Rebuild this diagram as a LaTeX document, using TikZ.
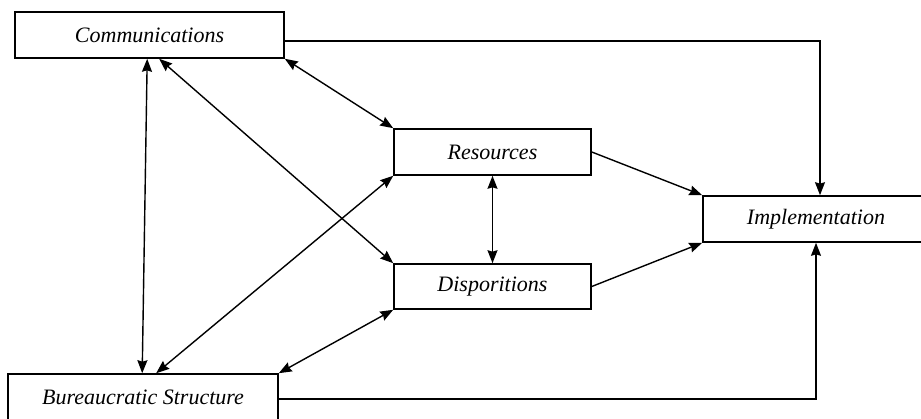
\documentclass[tikz,border=0pt]{standalone}
\usepackage{fontspec}
\setmainfont{Liberation Serif}
\usetikzlibrary{arrows.meta}
\begin{document}
\begin{tikzpicture}[x=1pt,y=-1pt,
  box/.style={draw, line width=1.6pt, inner sep=0pt, font=\fontsize{22}{26}\selectfont\itshape},
  conn/.style={line width=1.4pt, -{Stealth[length=13pt,width=10pt,inset=1.5pt]}},
  bi/.style={line width=1.4pt, {Stealth[length=13pt,width=10pt,inset=1.5pt]}-{Stealth[length=13pt,width=10pt,inset=1.5pt]}}]
\useasboundingbox (0,0) rectangle (921,419);
\clip (0,0) rectangle (921,419);
\node[box, minimum width=269pt, minimum height=46pt] (comm) at (149.5,35) {Communications};
\node[box, minimum width=197pt, minimum height=46pt] (res) at (492.5,152) {Resources};
\node[box, minimum width=197pt, minimum height=45pt] (disp) at (492.5,286.5) {Disporitions};
\node[box, minimum width=226pt, minimum height=46pt] (impl) at (816,219) {Implementation};
\node[box, minimum width=270pt, minimum height=46pt] (bur) at (143,397) {Bureaucratic Structure};
\draw[bi] ([xshift=133pt]comm.south west) -- ([xshift=135pt]bur.north west);
\draw[bi] ([xshift=145pt]comm.south west) -- (disp.north west);
\draw[bi] (comm.south east) -- (res.north west);
\draw[bi] ([xshift=149pt]bur.north west) -- (res.south west);
\draw[bi] (bur.north east) -- (disp.south west);
\draw[bi] (res.south) -- (disp.north);
\draw[conn] (res.east) -- (impl.north west);
\draw[conn] (disp.east) -- (impl.south west);
\draw[conn] ([yshift=-6pt]comm.east) -| ([xshift=4pt]impl.north);
\draw[conn] ([yshift=-2pt]bur.east) -| (impl.south);
\end{tikzpicture}
\end{document}
